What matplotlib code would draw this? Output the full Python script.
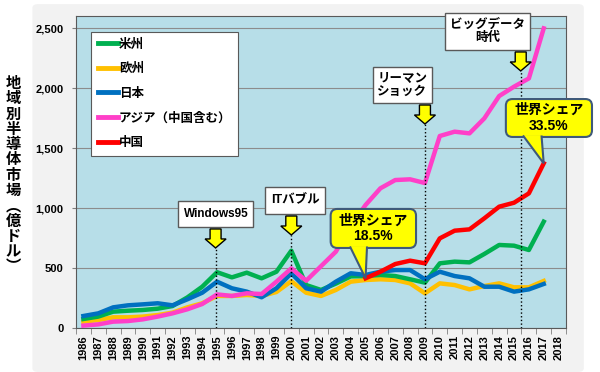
import matplotlib
matplotlib.use('Agg')
import matplotlib.pyplot as plt
from matplotlib.patches import FancyBboxPatch, Polygon, Rectangle
from matplotlib.lines import Line2D

# regional semiconductor market, 100M USD
years = list(range(1986, 2018))
americas = [75, 95, 136, 144, 150, 161, 183, 255, 344, 465, 422, 461, 414, 469, 644,
            358, 317, 370, 430, 433, 442, 433, 406, 378, 539, 553, 547, 617, 692, 686, 650, 886]
europe = [53, 67, 89, 89, 95, 108, 128, 172, 206, 267, 267, 275, 267, 300, 390,
          294, 267, 317, 386, 400, 406, 400, 372, 289, 372, 358, 322, 350, 372, 339, 339, 392]
japan = [100, 122, 172, 189, 197, 206, 189, 239, 294, 386, 331, 303, 256, 331, 456,
         331, 303, 386, 456, 442, 469, 483, 483, 406, 469, 433, 414, 344, 344, 303, 322, 367]
asia = [20, 30, 53, 58, 72, 95, 122, 156, 200, 280, 267, 289, 283, 386, 497,
        394, 515, 636, 850, 1025, 1164, 1233, 1239, 1208, 1600, 1636, 1622, 1747, 1933, 2011, 2080, 2497]
china_years = list(range(2005, 2018))
china = [414, 469, 533, 561, 539, 747, 811, 822, 914, 1011, 1044, 1122, 1372]

tick_years = list(range(1986, 2019))
y_ticks = [0, 500, 1000, 1500, 2000, 2500]

series_names = ['米州', '欧州', '日本', 'アジア（中国含む）', '中国']
series_colors = ['#00b050', '#ffc000', '#0070c0', '#ff3fc8', '#ff0000']

# events: label, x of arrow, box (x0, x1, y0, y1), font size
events = [
    ('Windows95', 1994.9, (1992.4, 1997.45, 842, 1058), 8.5),
    ('ITバブル', 2000.0, (1998.2, 2002.3, 950, 1175), 9),
    ('リーマン\nショック', 2009.0, (2005.5, 2009.45, 1875, 2175), 9),
    ('ビッグデータ\n時代', 2015.45, (2010.35, 2016.1, 2317, 2625), 9),
]
# share callouts: text, box (x0, x1, y0, y1), pointer base (left, right), tip
shares = [
    ('世界シェア\n18.5%', (2002.65, 2008.4, 667, 992), (2003.95, 2005.1), (2005, 414)),
    ('世界シェア\n33.5%', (2014.45, 2020.25, 1592, 1908), (2015.6, 2016.85), (2017, 1372)),
]

plt.rcParams['font.family'] = ['Liberation Sans', 'Noto Sans CJK JP']
plt.rcParams['font.weight'] = 'bold'

fig = plt.figure(figsize=(6, 3.72), dpi=100)
fig.patch.set_facecolor('white')
fig.patches.append(FancyBboxPatch((0.054, 0.0), 0.919, 0.989,
                                  boxstyle='round,pad=0,rounding_size=0.01',
                                  transform=fig.transFigure, fc='#f2f2f2', ec='none', zorder=-10))

ax = fig.add_axes([76 / 600, 1 - 328 / 372, 490 / 600, 312 / 372])
ax.set_facecolor('#b7dee8')
ax.set_xlim(1985.5, 2018.5)
ax.set_ylim(0, 2600)

# pixel -> data scale
PX_X = 33 / 490
PX_Y = 2600 / 312

lw = 3.2
ax.plot(years, europe, color=series_colors[1], lw=lw, zorder=3)
ax.plot(years, americas, color=series_colors[0], lw=lw, zorder=3.1)
ax.plot(years, japan, color=series_colors[2], lw=lw, zorder=3.2)
ax.plot(years, asia, color=series_colors[3], lw=lw, zorder=3.3)
ax.plot(china_years, china, color=series_colors[4], lw=lw, zorder=3.4)

ax.set_yticks(y_ticks)
ax.set_yticklabels(['{:,}'.format(v) for v in y_ticks], fontsize=8, fontweight='bold')
ax.set_xticks(tick_years)
ax.set_xticklabels([str(y) for y in tick_years], rotation=90, fontsize=8, fontweight='bold')
ax.set_xticks([y - 0.5 for y in tick_years] + [2018.5], minor=True)
ax.tick_params(axis='x', which='major', length=0, pad=5)
ax.tick_params(axis='x', which='minor', length=4, color='#808080')
ax.tick_params(axis='y', length=3, color='#808080', pad=6)
ax.grid(axis='y', color='#8c8c8c', lw=0.8)
ax.set_axisbelow(True)
for s in ax.spines.values():
    s.set_color('#595959')
    s.set_linewidth(0.8)

handles = [Line2D([], [], color=c, lw=3.5) for c in series_colors]
leg = ax.legend(handles, series_names, loc='upper left', bbox_to_anchor=(0.03, 0.95),
                prop={'weight': 'bold', 'size': 9}, handlelength=1.6,
                handletextpad=0.1, labelspacing=1.0, borderpad=0.55, borderaxespad=0,
                fancybox=False, framealpha=1, edgecolor='#595959')
leg.get_frame().set_linewidth(0.8)
leg.set_zorder(5)


def down_arrow(x, y_top, y_bot):
    sw, hw, hl = 5.5 * PX_X, 10.5 * PX_X, 9 * PX_Y
    pts = [(x - sw, y_top), (x + sw, y_top), (x + sw, y_bot + hl), (x + hw, y_bot + hl),
           (x, y_bot), (x - hw, y_bot + hl), (x - sw, y_bot + hl)]
    ax.add_patch(Polygon(pts, closed=True, fc='#ffff00', ec='black', lw=1, zorder=6, clip_on=False))


for label, x, (x0, x1, y0, y1), fs in events:
    ax.add_patch(Rectangle((x0, y0), x1 - x0, y1 - y0, fc='white', ec='#595959', lw=1,
                           zorder=6, clip_on=False))
    ax.text((x0 + x1) / 2, (y0 + y1) / 2, label, ha='center', va='center', fontsize=fs,
            fontweight='bold', linespacing=1.1, zorder=7)
    arrow_top = y0 - 2 * PX_Y
    arrow_bot = arrow_top - 19 * PX_Y
    down_arrow(x, arrow_top, arrow_bot)
    ax.plot([x, x], [0, arrow_bot], color='black', ls=':', lw=1, zorder=4)

for label, (x0, x1, y0, y1), (bl, br), tip in shares:
    ax.add_patch(FancyBboxPatch((x0, y0), x1 - x0, y1 - y0,
                                boxstyle='round,pad=0,rounding_size=0.45',
                                mutation_aspect=PX_Y / PX_X, fc='#ffff00', ec='#3f5a7a',
                                lw=1.5, zorder=8, clip_on=False))
    ax.add_patch(Polygon([(bl, y0 + 1.5 * PX_Y), tip, (br, y0 + 1.5 * PX_Y)], closed=False,
                         fc='#ffff00', ec='#3f5a7a', lw=1.5, zorder=9, clip_on=False))
    ax.text((x0 + x1) / 2, (y0 + y1) / 2, label, ha='center', va='center', fontsize=10,
            fontweight='bold', linespacing=1.15, zorder=10)

# vertical stacked y-axis title
ylabel_chars = list('地域別半導体市場') + ['︵', '億', 'ド', 'ル', '︶']
for i, ch in enumerate(ylabel_chars):
    fig.text(13 / 600, 1 - (83 + i * 15.3) / 372, ch, ha='center', va='center',
             fontsize=11, fontweight='bold', family=['Noto Sans CJK JP', 'DejaVu Sans'])

fig.savefig('out.png', dpi=100, facecolor=fig.get_facecolor())
